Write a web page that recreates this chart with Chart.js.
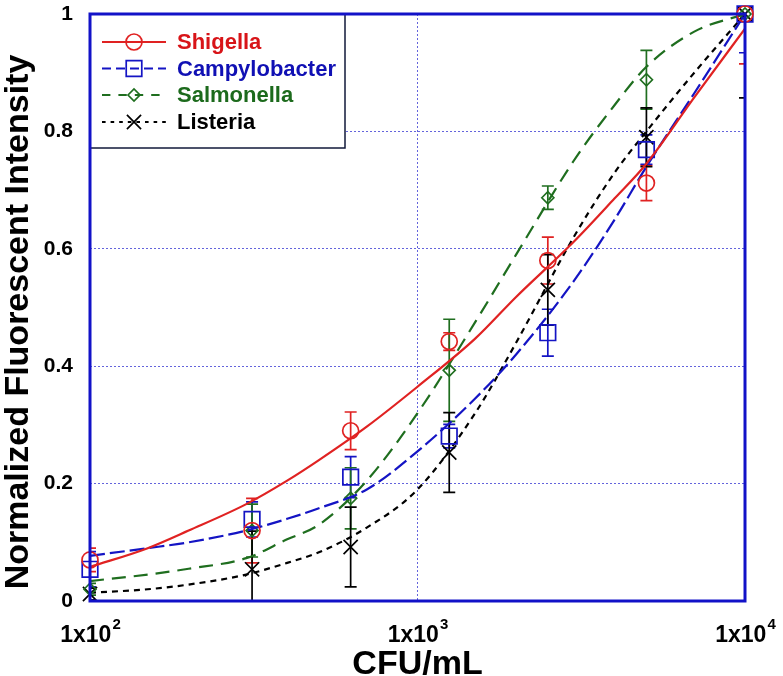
<!DOCTYPE html>
<html>
<head>
<meta charset="utf-8">
<script src="https://cdn.jsdelivr.net/npm/chart.js@4.4.1/dist/chart.umd.min.js"></script>
<style>
  html, body { margin: 0; padding: 0; background: #fff; }
  #wrap { width: 783px; height: 676px; }
</style>
</head>
<body>
<div id="wrap"><canvas id="chart" width="783" height="676"></canvas></div>
<script>
// concentrations (CFU/mL) of the measured points
const xValues = [100, 312.5, 625, 1250, 2500, 5000, 10000];

// measured means + error bars
const shigella      = [0.070, 0.120, 0.290, 0.442, 0.580, 0.712, 1.0];
const shigellaErr   = [0.020, 0.055, 0.032, 0.015, 0.040, 0.030, 0.085];
const campy         = [0.054, 0.139, 0.211, 0.281, 0.457, 0.769, 1.0];
const campyErr      = [0.030, 0.030, 0.035, 0.020, 0.040, 0.025, 0.066];
const salmonella    = [0.020, 0.120, 0.175, 0.393, 0.687, 0.888, 1.0];
const salmonellaErr = [0.010, 0.045, 0.052, 0.087, 0.020, 0.050, 0.0];
const listeria      = [0.012, 0.054, 0.092, 0.253, 0.530, 0.790, 1.0];
const listeriaErr   = [0.010, 0.065, 0.068, 0.068, 0.060, 0.050, 0.143];

// fitted curves
const fitX          = [100, 150, 200, 300, 400, 500, 700, 1000, 1500, 2000, 3000, 4000, 5000, 7000, 10000];
const shigellaFit   = [0.058, 0.090, 0.120, 0.165, 0.205, 0.240, 0.297, 0.365, 0.447, 0.518, 0.612, 0.686, 0.745, 0.858, 0.975];
const campyFit      = [0.077, 0.090, 0.100, 0.120, 0.140, 0.158, 0.190, 0.255, 0.345, 0.420, 0.545, 0.650, 0.740, 0.865, 1.0];
const salmonellaFit = [0.034, 0.045, 0.055, 0.073, 0.105, 0.130, 0.205, 0.320, 0.475, 0.590, 0.750, 0.845, 0.910, 0.970, 1.0];
const listeriaFit   = [0.014, 0.020, 0.028, 0.045, 0.065, 0.083, 0.125, 0.190, 0.320, 0.440, 0.620, 0.730, 0.800, 0.900, 1.0];

const xTicks = [100, 1000, 10000];
const yTicks = [0, 0.2, 0.4, 0.6, 0.8, 1];

const FONT = '"Liberation Sans", Arial, Helvetica, sans-serif';
const FRAME = '#1212c8';

const series = [
  { label: 'Shigella',      line: '#e02222', text: '#d81418', mean: shigella,   err: shigellaErr,   fit: shigellaFit,   dash: [],      marker: 'circle',   r: 8 },
  { label: 'Campylobacter', line: '#1414c4', text: '#1010b4', mean: campy,      err: campyErr,      fit: campyFit,      dash: [15, 5], marker: 'rect',     r: 11 },
  { label: 'Salmonella',    line: '#1f6e1f', text: '#1c6a1c', mean: salmonella, err: salmonellaErr, fit: salmonellaFit, dash: [14, 8], marker: 'rectRot',  r: 6 },
  { label: 'Listeria',      line: '#000000', text: '#000000', mean: listeria,   err: listeriaErr,   fit: listeriaFit,   dash: [6, 5],  marker: 'crossRot', r: 10 },
];

const datasets = [];
series.forEach((s) => {
  datasets.push({
    label: s.label + ' fit',
    data: fitX.map((x, i) => ({ x, y: s.fit[i] })),
    borderColor: s.line,
    borderWidth: 2.2,
    borderDash: s.dash,
    pointRadius: 0,
    cubicInterpolationMode: 'monotone',
    fill: false,
  });
  datasets.push({
    label: s.label,
    data: xValues.map((x, i) => ({ x, y: s.mean[i] })),
    showLine: false,
    pointStyle: s.marker,
    pointRadius: s.r,
    pointBorderWidth: 1.7,
    pointBorderColor: s.line,
    pointBackgroundColor: 'rgba(0,0,0,0)',
    clip: false,
  });
});

/* =========================
   error bars (under markers)
========================= */
const errorBars = {
  id: 'errorBars',
  beforeDatasetsDraw(chart) {
    const { ctx, chartArea, scales } = chart;
    ctx.save();
    ctx.beginPath();
    ctx.rect(chartArea.left, chartArea.top, chartArea.right - chartArea.left, chartArea.bottom - chartArea.top);
    ctx.clip();
    ctx.lineWidth = 1.7;
    series.forEach((s) => {
      ctx.strokeStyle = s.line;
      xValues.forEach((x, i) => {
        if (!s.err[i]) return;
        const px = scales.x.getPixelForValue(x);
        const top = scales.y.getPixelForValue(s.mean[i] + s.err[i]);
        const bot = scales.y.getPixelForValue(s.mean[i] - s.err[i]);
        ctx.beginPath();
        ctx.moveTo(px, top); ctx.lineTo(px, bot);
        ctx.moveTo(px - 6, top); ctx.lineTo(px + 6, top);
        ctx.moveTo(px - 6, bot); ctx.lineTo(px + 6, bot);
        ctx.stroke();
      });
    });
    ctx.restore();
  }
};

function drawMarker(ctx, type, x, y, r) {
  ctx.beginPath();
  if (type === 'circle') {
    ctx.arc(x, y, r, 0, Math.PI * 2);
  } else if (type === 'rect') {
    const h = r * Math.SQRT1_2;
    ctx.rect(x - h, y - h, 2 * h, 2 * h);
  } else if (type === 'rectRot') {
    ctx.moveTo(x - r, y); ctx.lineTo(x, y - r); ctx.lineTo(x + r, y); ctx.lineTo(x, y + r); ctx.closePath();
  } else {
    const h = r * Math.SQRT1_2;
    ctx.moveTo(x - h, y - h); ctx.lineTo(x + h, y + h);
    ctx.moveTo(x + h, y - h); ctx.lineTo(x - h, y + h);
  }
  ctx.stroke();
}

/* =========================
   frame, legend, axis text
========================= */
const decorations = {
  id: 'decorations',
  afterDatasetsDraw(chart) {
    const { ctx, chartArea } = chart;
    // legend box
    const bx = chartArea.left, by = chartArea.top, bw = 255, bh = 134;
    ctx.save();
    ctx.fillStyle = '#fff';
    ctx.fillRect(bx, by, bw, bh);
    ctx.strokeStyle = '#10183a';
    ctx.lineWidth = 1.5;
    ctx.strokeRect(bx, by, bw, bh);

    const rows = [42, 68.5, 95, 122];
    series.forEach((s, i) => {
      const y = rows[i];
      ctx.strokeStyle = s.line;
      ctx.lineWidth = 2;
      ctx.setLineDash(s.dash.length ? [s.dash[0] * 0.6, s.dash[1]] : []);
      ctx.beginPath();
      ctx.moveTo(bx + 12, y); ctx.lineTo(bx + 76, y);
      ctx.stroke();
      ctx.setLineDash([]);
      ctx.lineWidth = 1.7;
      ctx.fillStyle = '#fff';
      drawMarker(ctx, s.marker, bx + 44, y, s.r);
      ctx.fillStyle = s.text;
      ctx.font = 'bold 22px ' + FONT;
      ctx.textAlign = 'left';
      ctx.textBaseline = 'middle';
      ctx.fillText(s.label, bx + 87, y + 1);
    });
    ctx.restore();
  },
  afterDraw(chart) {
    const { ctx, chartArea, scales } = chart;
    ctx.save();
    // blue frame
    ctx.strokeStyle = FRAME;
    ctx.lineWidth = 3;
    ctx.strokeRect(chartArea.left, chartArea.top, chartArea.right - chartArea.left, chartArea.bottom - chartArea.top);

    // x tick labels 1x10^n
    ctx.fillStyle = '#000';
    ctx.textBaseline = 'alphabetic';
    xTicks.forEach((v) => {
      const px = scales.x.getPixelForValue(v);
      const base = '1x10';
      const exp = String(Math.round(Math.log10(v)));
      ctx.font = 'bold 23px ' + FONT;
      const w1 = ctx.measureText(base).width;
      ctx.font = 'bold 15px ' + FONT;
      const w2 = ctx.measureText(exp).width;
      const x0 = px - (w1 + w2) / 2;
      ctx.font = 'bold 23px ' + FONT;
      ctx.textAlign = 'left';
      ctx.fillText(base, x0, 642);
      ctx.font = 'bold 15px ' + FONT;
      ctx.fillText(exp, x0 + w1 + 1, 629);
    });

    // axis titles
    ctx.font = 'bold 34px ' + FONT;
    ctx.textAlign = 'center';
    ctx.fillText('CFU/mL', (chartArea.left + chartArea.right) / 2, 674);
    ctx.translate(28, 322);
    ctx.rotate(-Math.PI / 2);
    ctx.fillText('Normalized Fluorescent Intensity', 0, 0);
    ctx.restore();
  }
};

new Chart(document.getElementById('chart'), {
  type: 'line',
  data: { datasets },
  plugins: [errorBars, decorations],
  options: {
    responsive: false,
    animation: false,
    devicePixelRatio: 1,
    layout: { padding: { top: 14, right: 38, left: 0, bottom: 0 } },
    plugins: { legend: { display: false }, tooltip: { enabled: false } },
    scales: {
      x: {
        type: 'logarithmic',
        min: 100,
        max: 10000,
        afterBuildTicks: (scale) => { scale.ticks = xTicks.map((v) => ({ value: v })); },
        afterFit: (scale) => { scale.height = 75; scale.paddingLeft = 0; scale.paddingRight = 0; },
        ticks: { display: false },
        grid: { color: '#6464dc', lineWidth: 1, drawTicks: false },
        border: { display: false, dash: [2, 2] },
      },
      y: {
        min: 0,
        max: 1,
        afterBuildTicks: (scale) => { scale.ticks = yTicks.map((v) => ({ value: v })); },
        afterFit: (scale) => { scale.width = 90; scale.paddingTop = 0; scale.paddingBottom = 0; },
        ticks: {
          color: '#000',
          padding: 17,
          font: { family: FONT, size: 21, weight: 'bold' },
          callback: (v) => String(Math.round(v * 10) / 10),
        },
        grid: { color: '#6464dc', lineWidth: 1, drawTicks: false },
        border: { display: false, dash: [2, 2] },
      },
    },
  },
});
</script>
</body>
</html>
